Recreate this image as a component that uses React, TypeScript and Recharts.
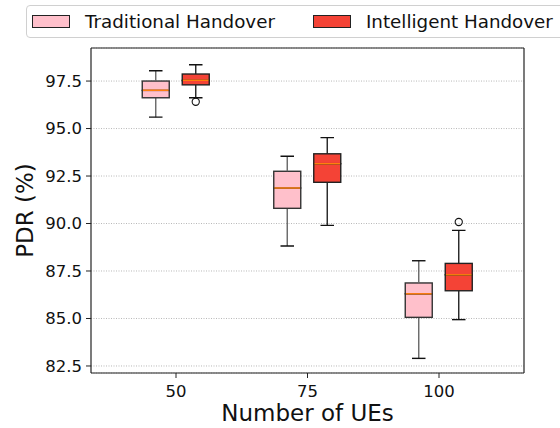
import { ComposedChart, Bar, XAxis, YAxis, CartesianGrid, Legend } from "recharts";

// Number of UEs groups
const groups = ["50", "75", "100"];

// Traditional handover box stats
const tradLow = [95.6, 88.82, 82.9];
const tradQ1 = [96.62, 90.8, 85.06];
const tradMed = [97.01, 91.87, 86.3];
const tradQ3 = [97.5, 92.75, 86.87];
const tradHigh = [98.04, 93.54, 88.04];
const tradOut: number[][] = [[], [], []];

// Intelligent handover box stats
const intelLow = [96.62, 89.9, 84.94];
const intelQ1 = [97.3, 92.17, 86.46];
const intelMed = [97.54, 93.15, 87.3];
const intelQ3 = [97.87, 93.67, 87.9];
const intelHigh = [98.36, 94.52, 89.64];
const intelOut: number[][] = [[96.41], [], [90.08]];

const yTicks = [82.5, 85, 87.5, 90, 92.5, 95, 97.5];

const TRAD_FILL = "#ffc0cb";
const INTEL_FILL = "#f44336";
const MEDIAN = "#ff7f0e";
const FONT = "DejaVu Sans";

type Stats = { low: number; q1: number; med: number; q3: number; high: number; out: number[] };

const data = groups.map((g, i) => {
  const t: Stats = { low: tradLow[i], q1: tradQ1[i], med: tradMed[i], q3: tradQ3[i], high: tradHigh[i], out: tradOut[i] };
  const s: Stats = { low: intelLow[i], q1: intelQ1[i], med: intelMed[i], q3: intelQ3[i], high: intelHigh[i], out: intelOut[i] };
  return {
    g,
    t,
    s,
    t0: t.low,
    t1: t.q1 - t.low,
    t2: t.med - t.q1,
    t3: t.q3 - t.med,
    t4: t.high - t.q3,
    s0: s.low,
    s1: s.q1 - s.low,
    s2: s.med - s.q1,
    s3: s.q3 - s.med,
    s4: s.high - s.q3,
  };
});

const empty = () => <g />;

// whisker between low and q1, cap at bottom, low outliers below
const lowWhisker = (key: "t" | "s", lineColor: string) => (p: any) => {
  const { x, y, width, height, payload } = p;
  const st: Stats = payload[key];
  const cx = x + width / 2;
  const bottom = y + height;
  const ppu = height / (st.q1 - st.low);
  return (
    <g>
      <line x1={cx} x2={cx} y1={y} y2={bottom} stroke={lineColor} strokeWidth={1.4} />
      <line x1={cx - width / 4} x2={cx + width / 4} y1={bottom} y2={bottom} stroke="#111" strokeWidth={1.4} />
      {st.out
        .filter((o) => o < st.low)
        .map((o, i) => (
          <circle key={i} cx={cx} cy={bottom + (st.low - o) * ppu} r={3.6} fill="none" stroke="#111" strokeWidth={1.1} />
        ))}
    </g>
  );
};

// whisker between q3 and high, cap at top, high outliers above
const highWhisker = (key: "t" | "s", lineColor: string) => (p: any) => {
  const { x, y, width, height, payload } = p;
  const st: Stats = payload[key];
  const cx = x + width / 2;
  const ppu = height / (st.high - st.q3);
  return (
    <g>
      <line x1={cx} x2={cx} y1={y} y2={y + height} stroke={lineColor} strokeWidth={1.4} />
      <line x1={cx - width / 4} x2={cx + width / 4} y1={y} y2={y} stroke="#111" strokeWidth={1.4} />
      {st.out
        .filter((o) => o > st.high)
        .map((o, i) => (
          <circle key={i} cx={cx} cy={y - (o - st.high) * ppu} r={3.6} fill="none" stroke="#111" strokeWidth={1.1} />
        ))}
    </g>
  );
};

const lowerBox = (fill: string, edge: string) => (p: any) => (
  <rect x={p.x} y={p.y} width={p.width} height={p.height} fill={fill} stroke={edge} strokeWidth={1.4} />
);

const upperBox = (fill: string, edge: string) => (p: any) => (
  <g>
    <rect x={p.x} y={p.y} width={p.width} height={p.height} fill={fill} stroke={edge} strokeWidth={1.4} />
    <line x1={p.x + 0.7} x2={p.x + p.width - 0.7} y1={p.y + p.height} y2={p.y + p.height} stroke={MEDIAN} strokeWidth={1.5} />
  </g>
);

const legendItems = [
  { label: "Traditional Handover", fill: TRAD_FILL },
  { label: "Intelligent Handover", fill: INTEL_FILL },
];

function BoxLegend() {
  return (
    <div
      style={{
        boxSizing: "border-box",
        height: 33,
        width: 560,
        border: "1px solid #d0d0d0",
        borderRadius: 4,
        background: "#fff",
        display: "flex",
        alignItems: "center",
        fontFamily: FONT,
        fontSize: 18.3,
        color: "#111",
        whiteSpace: "nowrap",
      }}
    >
      {legendItems.map((it, i) => (
        <div key={it.label} style={{ display: "flex", alignItems: "center", marginLeft: i === 0 ? 5 : 38 }}>
          <span
            style={{
              boxSizing: "border-box",
              display: "inline-block",
              width: 38,
              height: 12.5,
              background: it.fill,
              border: "1px solid #222",
            }}
          />
          <span style={{ marginLeft: 15 }}>{it.label}</span>
        </div>
      ))}
    </div>
  );
}

const yLabel = (props: any) => {
  const vb = props.viewBox || {};
  const x = (vb.x ?? 0) + 33;
  const y = (vb.y ?? 48) + (vb.height ?? 325) / 2;
  return (
    <text x={x} y={y} transform={`rotate(-90, ${x}, ${y})`} textAnchor="middle" fontSize={23} fill="#111" fontFamily={FONT}>
      PDR (%)
    </text>
  );
};

export default function App() {
  const tick = { fill: "#111", fontSize: 16.5, fontFamily: FONT };
  const axisLine = { stroke: "#222", strokeWidth: 1.2 };
  return (
    <div style={{ position: "absolute", left: 0, top: 0, width: 560, height: 428, overflow: "hidden", background: "#fff", fontFamily: FONT }}>
      <ComposedChart width={560} height={428} data={data} margin={{ top: 47, right: 35, bottom: 0, left: 0 }} barGap={13}>
        <CartesianGrid vertical={false} stroke="#b0b0b0" strokeDasharray="1 1.5" strokeWidth={0.9} />
        <XAxis
          dataKey="g"
          height={55}
          padding={{ left: 19.25, right: 19.25 }}
          tick={tick}
          tickSize={5}
          tickMargin={7}
          axisLine={axisLine}
          tickLine={{ stroke: "#222" }}
          label={{ value: "Number of UEs", position: "insideBottom", offset: 7, fontSize: 23, fill: "#111", fontFamily: FONT }}
        />
        <XAxis xAxisId="top" dataKey="g" orientation="top" height={1} tick={false} tickLine={false} axisLine={axisLine} />
        <YAxis
          width={91}
          domain={[82.13, 99.24]}
          allowDataOverflow
          ticks={yTicks}
          interval={0}
          tickFormatter={(v: number) => v.toFixed(1)}
          tick={tick}
          tickSize={5}
          tickMargin={4}
          axisLine={axisLine}
          tickLine={{ stroke: "#222" }}
          label={{ content: yLabel }}
        />
        <YAxis yAxisId="right" orientation="right" width={1} domain={[82.13, 99.24]} tick={false} tickLine={false} axisLine={axisLine} />
        <Legend verticalAlign="middle" align="center" layout="horizontal" content={BoxLegend} wrapperStyle={{ top: 5, left: 26, width: 560, height: 33 }} />

        <Bar dataKey="t0" stackId="t" barSize={27} shape={empty} isAnimationActive={false} legendType="none" />
        <Bar dataKey="t1" stackId="t" barSize={27} shape={lowWhisker("t", "#666")} isAnimationActive={false} legendType="none" />
        <Bar dataKey="t2" stackId="t" barSize={27} shape={lowerBox(TRAD_FILL, "#333")} isAnimationActive={false} legendType="none" />
        <Bar dataKey="t3" stackId="t" barSize={27} shape={upperBox(TRAD_FILL, "#333")} isAnimationActive={false} legendType="none" />
        <Bar dataKey="t4" stackId="t" barSize={27} shape={highWhisker("t", "#666")} isAnimationActive={false} legendType="none" />

        <Bar dataKey="s0" stackId="s" barSize={27} shape={empty} isAnimationActive={false} legendType="none" />
        <Bar dataKey="s1" stackId="s" barSize={27} shape={lowWhisker("s", "#222")} isAnimationActive={false} legendType="none" />
        <Bar dataKey="s2" stackId="s" barSize={27} shape={lowerBox(INTEL_FILL, "#222")} isAnimationActive={false} legendType="none" />
        <Bar dataKey="s3" stackId="s" barSize={27} shape={upperBox(INTEL_FILL, "#222")} isAnimationActive={false} legendType="none" />
        <Bar dataKey="s4" stackId="s" barSize={27} shape={highWhisker("s", "#222")} isAnimationActive={false} legendType="none" />
      </ComposedChart>
    </div>
  );
}
